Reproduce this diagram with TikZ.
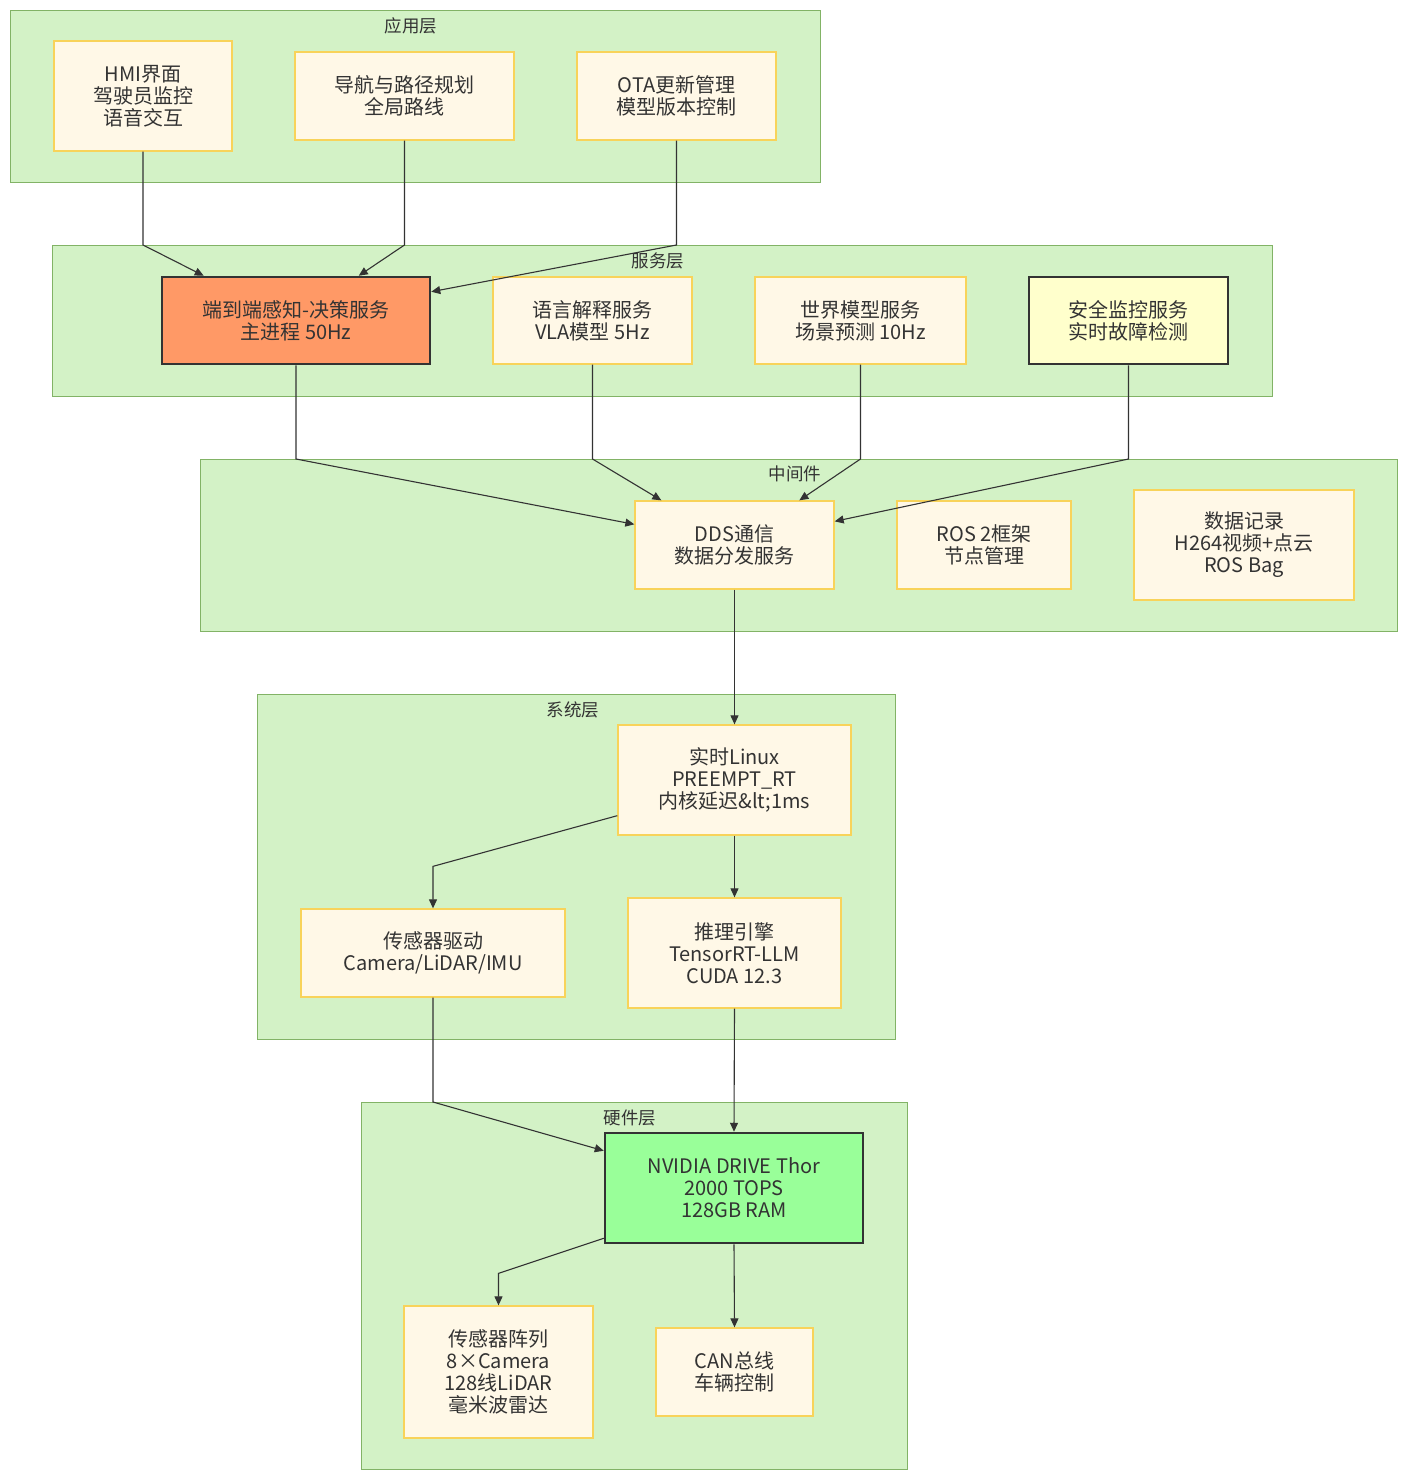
\documentclass[tikz,border=0pt]{standalone}
\usepackage{fontspec}
\setmainfont{Noto Sans CJK SC}
\usetikzlibrary{arrows.meta,calc}
\definecolor{clfill}{HTML}{D3F2C6}
\definecolor{clborder}{HTML}{82B366}
\definecolor{boxfill}{HTML}{FFF8E7}
\definecolor{boxborder}{HTML}{F8D35A}
\definecolor{dark}{HTML}{333333}
\definecolor{orangefill}{HTML}{FF9966}
\definecolor{yellowfill}{HTML}{FFFFCC}
\definecolor{greenfill}{HTML}{99FF99}
\newcommand{\nodefont}{\fontsize{20}{22}\selectfont}
\newcommand{\lblfont}{\fontsize{17.5}{19}\selectfont}
\begin{document}
\begin{tikzpicture}[x=1pt,y=-1pt,
  cluster/.style={draw=clborder, fill=clfill, line width=1.3pt, inner sep=0pt, anchor=north west},
  box/.style={draw=boxborder, fill=boxfill, line width=1.3pt, align=center, text=dark, font=\nodefont, inner sep=0pt},
  hl/.style={draw=dark, line width=2.5pt},
  arr/.style={draw=dark, line width=1.1pt, -{Triangle[length=9pt,width=8pt]}},
  lbl/.style={font=\lblfont, text=dark, inner sep=0pt}]
\fill[white] (0,0) rectangle (1408,1480);
\useasboundingbox (0,0) rectangle (1408,1480);
% clusters
\node[cluster, minimum width=810pt, minimum height=172pt] (app) at (10,10) {};
\node[cluster, minimum width=1220pt, minimum height=151pt] (svc) at (52,245) {};
\node[cluster, minimum width=1197pt, minimum height=172pt] (mid) at (200,459) {};
\node[cluster, minimum width=638pt, minimum height=345pt] (sys) at (257,694) {};
\node[cluster, minimum width=546pt, minimum height=367pt] (hw) at (361,1102) {};
\node[lbl] (applbl) at (411,26) {应用层};
\node[lbl] (svclbl) at (658,261) {服务层};
\node[lbl] (midlbl) at (795,474) {中间件};
\node[lbl] (syslbl) at (573,710) {系统层};
\node[lbl] (hwlbl) at (630,1118) {硬件层};
% application layer
\node[box, minimum width=178pt, minimum height=110pt] (hmi) at (143,96) {HMI界面\\驾驶员监控\\语音交互};
\node[box, minimum width=219pt, minimum height=88pt] (nav) at (404.5,96) {导航与路径规划\\全局路线};
\node[box, minimum width=199pt, minimum height=88pt] (ota) at (676.5,96) {OTA更新管理\\模型版本控制};
% service layer
\node[box, hl, fill=orangefill, minimum width=268pt, minimum height=87pt] (e2e) at (296,320.5) {端到端感知-决策服务\\主进程 50Hz};
\node[box, minimum width=199pt, minimum height=87pt] (lang) at (592.5,320.5) {语言解释服务\\VLA模型 5Hz};
\node[box, minimum width=211pt, minimum height=87pt] (world) at (860.5,320.5) {世界模型服务\\场景预测 10Hz};
\node[box, hl, fill=yellowfill, minimum width=199pt, minimum height=87pt] (safe) at (1128.5,320.5) {安全监控服务\\实时故障检测};
% middleware
\node[box, minimum width=199pt, minimum height=88pt] (dds) at (734.5,545) {DDS通信\\数据分发服务};
\node[box, minimum width=174pt, minimum height=88pt] (ros) at (984,545) {ROS 2框架\\节点管理};
\node[box, minimum width=220pt, minimum height=110pt] (rec) at (1244,545) {数据记录\\H264视频+点云\\ROS Bag};
% system layer
\node[box, minimum width=233pt, minimum height=110pt] (linux) at (734.5,780) {实时Linux\\PREEMPT\_RT\\内核延迟\&lt;1ms};
\node[box, minimum width=264pt, minimum height=88pt] (sdrv) at (433,953) {传感器驱动\\Camera/LiDAR/IMU};
\node[box, minimum width=213pt, minimum height=110pt] (inf) at (734.5,953) {推理引擎\\TensorRT-LLM\\CUDA 12.3};
% hardware layer
\node[box, hl, fill=greenfill, minimum width=258pt, minimum height=110pt] (nv) at (734,1188) {NVIDIA DRIVE Thor\\2000 TOPS\\128GB RAM};
\node[box, minimum width=189pt, minimum height=132pt] (sarr) at (498.5,1372) {传感器阵列\\8×Camera\\128线LiDAR\\毫米波雷达};
\node[box, minimum width=157pt, minimum height=88pt] (can) at (734.5,1372) {CAN总线\\车辆控制};
% edges
\draw[arr] (hmi.south) -- (hmi.south |- svc.north) -- ($(e2e.north west)+(43,0)$);
\draw[arr] (nav.south) -- (nav.south |- svc.north) -- ($(e2e.north west)+(198,0)$);
\draw[arr] (ota.south) -- (ota.south |- svc.north) -- ($(e2e.north east)+(0,16)$);
\draw[arr] (e2e.south) -- (e2e.south |- mid.north) -- ($(dds.north west)+(0,24)$);
\draw[arr] (lang.south) -- (lang.south |- mid.north) -- ($(dds.north west)+(27,0)$);
\draw[arr] (world.south) -- (world.south |- mid.north) -- ($(dds.north west)+(165,0)$);
\draw[arr] (safe.south) -- (safe.south |- mid.north) -- ($(dds.north east)+(0,21)$);
\draw[arr] (dds.south) -- (linux.north);
\draw[arr] ($(linux.south west)+(0,-20)$) -- ($(sdrv.north)+(0,-42)$) -- (sdrv.north);
\draw[arr] (linux.south) -- (inf.north);
\draw[arr] (sdrv.south) -- (sdrv.south |- hw.north) -- ($(nv.north west)+(0,19)$);
\draw[arr] (inf.south) -- (nv.north);
\draw[arr] ($(nv.south west)+(0,-6)$) -- ($(sarr.north)+(0,-32)$) -- (sarr.north);
\draw[arr] (nv.south) -- (can.north);
\end{tikzpicture}
\end{document}
